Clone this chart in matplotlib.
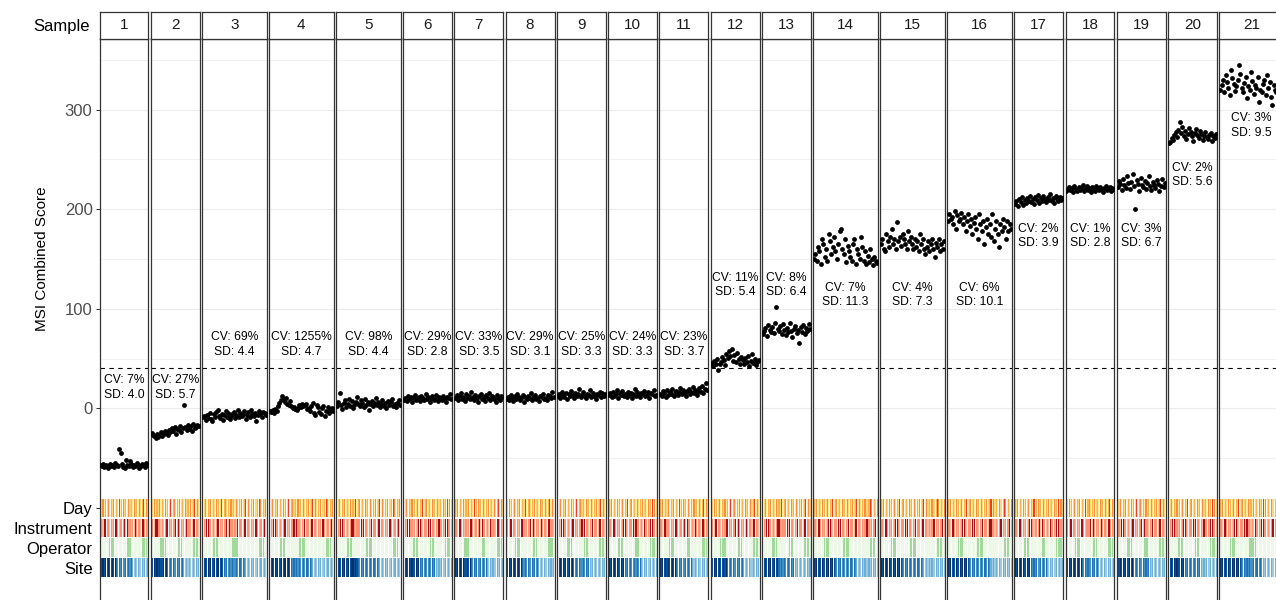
import matplotlib
matplotlib.use("Agg")
import matplotlib.pyplot as plt

plt.rcParams['font.family'] = ['Liberation Sans', 'DejaVu Sans']

# ---- data -------------------------------------------------------------
samples = [str(i) for i in range(1, 22)]

s1 = [-57, -58, -56, -59, -57, -58, -60, -56, -58, -57, -59, -55, -57, -58, -41, -45, -56, -59,
      -60, -52, -57, -58, -53, -56, -59, -57, -58, -55, -57, -60, -58, -56, -57, -59, -55, -57]
s2 = [-25, -27, -28, -30, -26, -29, -27, -24, -28, -26, -23, -25, -27, -22, -24, -20, -23, -19,
      -26, -21, -22, -18, -24, -20, 3, -19, -22, -17, -21, -18, -23, -16, -20, -19, -17, -18]
s3 = [-9, -8, -12, -7, -10, -5, -11, -13, -6, -9, -4, -2, -8, -10, -6, -12, -7, -3, -9, -5, -11, -8,
      -6, -4, -10, -7, -2, -9, -5, -8, -6, -3, -11, -7, -4, -9, -2, -6, -8, -5, -13, -7, -3, -6, -9,
      -4, -5, -7]
s4 = [-3, -4, -2, -5, -1, -3, 2, 5, 8, 12, 9, 6, 10, 4, 3, 7, 2, 0, 1, -1, -2, 0, 3, 1, 4, 2, 3, 4,
      -1, 0, -3, 2, 5, -5, -7, 3, 1, -4, -6, 0, 2, -8, -3, 1, -5, -2, 0, -3]
s5 = [2, 6, 15, 3, -1, 5, 8, 1, 4, 9, 2, 7, 0, 3, 6, 11, 4, 2, 8, 5, 1, 9, 3, 6, -2, 4, 7, 2, 5, 10,
      3, 6, 1, 4, 8, 2, 5, 0, 7, 3, 6, 9, 2, 4, 1, 5, 8, 3]
s6 = [8, 10, 7, 12, 9, 11, 6, 10, 13, 8, 9, 11, 7, 12, 10, 8, 14, 9, 11, 6, 10, 12, 8, 9, 13, 7, 11,
      10, 8, 12, 9, 6, 11, 10, 14, 9]
s7 = [10, 13, 8, 12, 15, 9, 11, 7, 14, 10, 12, 9, 16, 11, 8, 13, 10, 6, 12, 14, 9, 11, 7, 13, 10,
      15, 8, 12, 11, 9, 6, 13, 10, 8, 12, 11]
s8 = [9, 11, 8, 13, 10, 7, 12, 9, 14, 11, 8, 10, 13, 6, 11, 9, 12, 10, 15, 8, 11, 13, 9, 10, 7, 12,
      11, 14, 9, 10, 8, 13, 12, 10, 16, 11]
s9 = [12, 14, 10, 16, 13, 11, 15, 9, 14, 12, 17, 13, 10, 15, 12, 14, 19, 11, 13, 16, 12, 10, 14, 13,
      18, 11, 15, 12, 9, 14, 13, 16, 11, 15, 12, 14]
s10 = [13, 15, 11, 16, 12, 14, 18, 10, 15, 13, 17, 12, 14, 11, 16, 13, 15, 10, 14, 19, 12, 16, 13,
       11, 15, 14, 17, 12, 13, 16, 10, 15, 14, 18, 12, 13]
s11 = [14, 12, 17, 15, 11, 18, 13, 16, 14, 19, 12, 15, 17, 13, 16, 20, 14, 18, 15, 12, 17, 19, 14,
       16, 21, 15, 18, 13, 17, 20, 16, 22, 15, 19, 25, 18]
s12 = [46, 42, 48, 44, 50, 38, 45, 47, 52, 49, 43, 55, 51, 58, 53, 60, 48, 54, 47, 56, 50, 45, 52,
       49, 44, 51, 47, 53, 42, 48, 55, 46, 50, 43, 47, 49]
s13 = [75, 78, 81, 73, 84, 79, 77, 82, 76, 86, 102, 80, 78, 83, 75, 85, 79, 74, 81, 77, 86, 78, 72,
       80, 83, 76, 79, 66, 82, 77, 84, 75, 81, 78, 85, 80]
s14 = [150, 155, 148, 162, 158, 145, 170, 165, 152, 160, 148, 175, 168, 155, 162, 172, 158, 150,
       165, 178, 180, 160, 155, 170, 147, 163, 158, 152, 148, 165, 170, 145, 160, 155, 150, 172,
       162, 148, 158, 145, 153, 147, 160, 150, 144, 152, 148, 146]
s15 = [165, 170, 160, 158, 175, 168, 162, 172, 180, 165, 170, 160, 187, 168, 172, 163, 175, 170,
       165, 160, 178, 168, 172, 165, 160, 170, 162, 168, 158, 175, 165, 170, 160, 155, 162, 168,
       158, 165, 170, 160, 152, 166, 162, 170, 158, 165, 160, 168]
s16 = [188, 195, 190, 192, 185, 198, 180, 194, 188, 190, 196, 185, 192, 178, 188, 195, 183, 190,
       175, 186, 192, 180, 170, 195, 185, 178, 188, 165, 182, 190, 175, 185, 172, 195, 168, 180,
       188, 175, 162, 185, 178, 190, 182, 170, 188, 178, 185, 180]
s17 = [205, 208, 203, 210, 207, 212, 204, 209, 206, 211, 208, 213, 207, 210, 205, 212, 209, 214,
       206, 211, 208, 213, 210, 207, 212, 209, 215, 208, 211, 206, 213, 210, 208, 212, 209, 211]
s18 = [218, 220, 222, 219, 221, 217, 223, 220, 218, 222, 219, 221, 224, 218, 220, 223, 219, 221,
       217, 222, 220, 218, 223, 221, 219, 222, 220, 217, 221, 223, 219, 220, 222, 218, 221, 220]
s19 = [222, 228, 225, 219, 230, 224, 221, 233, 226, 220, 227, 235, 223, 200, 229, 225, 218, 231,
       224, 222, 228, 220, 226, 233, 223, 219, 227, 224, 221, 229, 225, 218, 223, 230, 222, 226]
s20 = [266, 268, 272, 270, 275, 278, 273, 280, 288, 277, 283, 274, 279, 271, 276, 282, 278, 274,
       269, 277, 281, 275, 272, 279, 276, 270, 274, 278, 273, 271, 275, 277, 269, 274, 272, 276]
s21 = [320, 325, 330, 318, 335, 328, 322, 315, 340, 332, 326, 319, 324, 330, 345, 336, 322, 318,
       327, 333, 312, 324, 320, 338, 329, 316, 325, 322, 333, 308, 320, 318, 326, 330, 315, 335,
       322, 328, 313, 305, 325, 320, 318, 332, 326, 322, 315, 340]
scores = [s1, s2, s3, s4, s5, s6, s7, s8, s9, s10, s11, s12, s13, s14, s15, s16, s17, s18, s19,
          s20, s21]

cv_labels = ["7%", "27%", "69%", "1255%", "98%", "29%", "33%", "29%", "25%", "24%", "23%",
             "11%", "8%", "7%", "4%", "6%", "2%", "1%", "3%", "2%", "3%"]
sd_labels = ["4.0", "5.7", "4.4", "4.7", "4.4", "2.8", "3.5", "3.1", "3.3", "3.3", "3.7",
             "5.4", "6.4", "11.3", "7.3", "10.1", "3.9", "2.8", "6.7", "5.6", "9.5"]
# height (score units) at which each CV/SD annotation is centred
label_y = [21, 21, 64, 64, 64, 64, 64, 64, 64, 64, 64, 124, 124, 114, 114, 114, 173, 173, 173,
           234, 284]

cutoff = 40

# run design codes per replicate column (36- and 48-run layouts)
day_36 = ("213" "021" "302" "130" "214" "023" "120" "312" "031" "203" "124" "031")
inst_36 = ("1102" "2110" "1012" "2101" "1120" "2110" "1021" "1102" "2110")
oper_36 = ("0000000" "1111" "000000000" "111" "00000000" "1111" "0")
site_36 = ("010101" "011010" "232323" "323232" "454545" "545454")
day_48 = ("213" "021" "302" "130" "214" "023" "120" "312" "031" "203" "124" "031"
          "203" "112" "430" "213")
inst_48 = ("1102" "2110" "1012" "2101" "1120" "2110" "1021" "1102" "2110" "1012" "2101" "1120")
oper_48 = ("00000000" "1111" "0000000000" "11111" "000000000000000" "1111" "00")
site_48 = ("01010101" "10100101" "23232323" "32322323" "45454545" "54544545")

day_colors = ['#ffeda0', '#fed976', '#feb24c', '#fd8d3c', '#f03b20']
inst_colors = ['#fcbba1', '#fc9272', '#a50f15']
oper_colors = ['#edf8e9', '#a1d99b']
site_colors = ['#08306b', '#08519c', '#2171b5', '#4292c6', '#6baed6', '#9ecae1']

track_y = [-100, -120, -140, -160]

# ---- layout (pixel based) --------------------------------------------
W, H = 1276, 600
fig = plt.figure(figsize=(W / 100, H / 100), dpi=100)

left0 = 99.5
right_end = 1284.0
gap = 2.4
panel_top = 38.5
panel_bottom = 615.0
strip_top = 12.0
y_zero_px = 408.3
px_per_unit = 0.9955
ymax = (y_zero_px - panel_top) / px_per_unit
ymin = (y_zero_px - panel_bottom) / px_per_unit

weights = [len(s) + 1.2 for s in scores]
usable = right_end - left0 - gap * (len(scores) - 1)
widths = [w / sum(weights) * usable for w in weights]


def rect(x, ytop, w, h):
    return [x / W, 1 - (ytop + h) / H, w / W, h / H]


edge = '#333333'
x = left0
for i, vals in enumerate(scores):
    n = len(vals)
    w = widths[i]
    if n == 36:
        codes = [day_36, inst_36, oper_36, site_36]
    else:
        codes = [day_48, inst_48, oper_48, site_48]
    palettes = [day_colors, inst_colors, oper_colors, site_colors]

    ax = fig.add_axes(rect(x, panel_top, w, panel_bottom - panel_top))
    ax.set_xlim(0.4, n + 0.6)
    ax.set_ylim(ymin, ymax)
    for sp in ax.spines.values():
        sp.set_color(edge)
        sp.set_linewidth(0.9)
    ax.set_xticks([])
    for g in [-50, 0, 50, 100, 150, 200, 250, 300, 350]:
        ax.axhline(g, color='#ebebeb', lw=0.8 if g % 100 == 0 else 0.5, zorder=0)
    ax.axhline(cutoff, color='black', lw=0.8, ls=(0, (4, 4)), zorder=1)

    xs = list(range(1, n + 1))
    ax.scatter(xs, vals, s=12, color='black', linewidths=0, zorder=3)

    for code, pal, ty in zip(codes, palettes, track_y):
        cols = [pal[int(c)] for c in code[:n]]
        ax.bar(xs, [18.5] * n, bottom=ty - 9.25, width=0.78, color=cols, linewidth=0, zorder=2)

    ax.text((n + 1) / 2, label_y[i], f"CV: {cv_labels[i]}\nSD: {sd_labels[i]}",
            ha='center', va='center', fontsize=8.7, linespacing=1.25, color='black', zorder=4)

    if i == 0:
        ticks = [-160, -140, -120, -100, 0, 100, 200, 300]
        ax.set_yticks(ticks)
        ax.set_yticklabels(['Site', 'Operator', 'Instrument', 'Day', '0', '100', '200', '300'])
        ax.tick_params(axis='y', length=3, width=0.75, color=edge, pad=2)
        for k, t in enumerate(ax.yaxis.get_major_ticks()):
            lbl = t.label1
            lbl.set_fontsize(12)
            if k < 4:
                lbl.set_color('black')
                if k < 3:
                    t.tick1line.set_visible(False)
            else:
                lbl.set_color('#4d4d4d')
    else:
        ax.set_yticks([])

    sax = fig.add_axes(rect(x, strip_top, w, panel_top - strip_top))
    sax.set_xticks([])
    sax.set_yticks([])
    for sp in sax.spines.values():
        sp.set_color(edge)
        sp.set_linewidth(0.9)
    sax.text(0.5, 0.5, samples[i], ha='center', va='center', fontsize=11,
             color='#1a1a1a', transform=sax.transAxes)

    x += w + gap

fig.text(62 / W, 1 - 26 / H, 'Sample', ha='center', va='center', fontsize=12, color='black')
fig.text(42 / W, 1 - 259 / H, 'MSI Combined Score', ha='center', va='center', rotation=90,
         fontsize=11, color='black')

fig.savefig('out.png', dpi=100)
